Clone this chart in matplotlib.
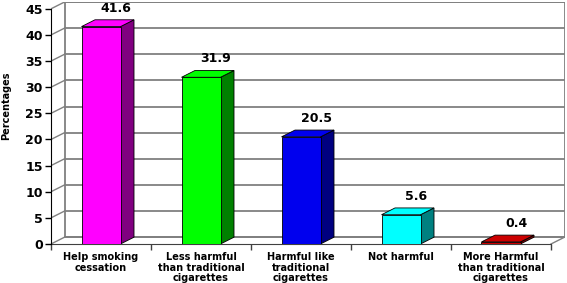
import matplotlib
matplotlib.use('Agg')
import matplotlib.pyplot as plt
from matplotlib.patches import Polygon, Rectangle

# data
categories = ['Help smoking\ncessation',
              'Less harmful\nthan traditional\ncigarettes',
              'Harmful like\ntraditional\ncigarettes',
              'Not harmful',
              'More Harmful\nthan traditional\ncigarettes']
values = [41.6, 31.9, 20.5, 5.6, 0.4]
front_colors = ['#ff00ff', '#00ff00', '#0000ee', '#00ffff', '#cc0000']
side_colors = ['#800080', '#008000', '#000080', '#008080', '#800000']
y_ticks = list(range(0, 50, 5))

DX, DY = 0.135, 1.3   # fake 3d depth (categories, value units)
W = 0.39
GRID = '#808080'

plt.rcParams['font.family'] = ['DejaVu Sans']
plt.rcParams['font.weight'] = 'bold'

fig = plt.figure(figsize=(5.67, 2.83), dpi=100)
ax = fig.add_axes([51 / 567, 39 / 283, 514 / 567, 242.5 / 283])
ax.set_xlim(-0.5, 4.5 + DX + 0.005)
ax.set_ylim(0, 45 + DY + 0.1)

# back wall, side wall diagonals, floor
ax.add_patch(Rectangle((-0.5 + DX, DY), 5, 45, facecolor='white',
                       edgecolor=GRID, lw=1.3, zorder=1))
for t in y_ticks:
    ax.plot([-0.5 + DX, 4.5 + DX], [t + DY, t + DY], color=GRID, lw=1.3, zorder=1)
    ax.plot([-0.5, -0.5 + DX], [t, t + DY], color=GRID, lw=1.0, zorder=1)
ax.plot([4.5, 4.5 + DX], [0, DY], color=GRID, lw=1.0, zorder=1)

# bars
for i, (v, fc, sc) in enumerate(zip(values, front_colors, side_colors)):
    x0, x1 = i - W / 2, i + W / 2
    ax.add_patch(Polygon([(x1, 0), (x1 + DX, DY), (x1 + DX, v + DY), (x1, v)],
                         closed=True, facecolor=sc, edgecolor='black', lw=0.6, zorder=3))
    ax.add_patch(Polygon([(x0, v), (x0 + DX, v + DY), (x1 + DX, v + DY), (x1, v)],
                         closed=True, facecolor=fc, edgecolor='black', lw=0.6, zorder=3))
    ax.add_patch(Rectangle((x0, 0), W, v, facecolor=fc, edgecolor='black',
                           lw=0.6, zorder=4))
    ax.text(i + 0.15, v + DY + 1.0, f'{v}', ha='center', va='bottom',
            fontsize=9, fontweight='bold', zorder=5)

for s in ['top', 'right']:
    ax.spines[s].set_visible(False)
ax.spines['left'].set_bounds(0, 45)
ax.spines['bottom'].set_bounds(-0.5, 4.5)
ax.spines['left'].set_zorder(6)
ax.spines['bottom'].set_color('#404040')

ax.set_yticks(y_ticks)
ax.set_yticklabels([str(t) for t in y_ticks], fontsize=9, fontweight='bold')
ax.tick_params(axis='y', length=4, width=1, pad=2)

ax.set_xticks([-0.5, 0.5, 1.5, 2.5, 3.5, 4.5])
ax.set_xticklabels([])
ax.tick_params(axis='x', which='major', length=4, width=1, color='#404040')
ax.set_xticks(range(len(categories)), minor=True)
ax.set_xticklabels(categories, minor=True, fontsize=7, fontweight='bold',
                   linespacing=1.05)
ax.tick_params(axis='x', which='minor', length=0, pad=6)

ax.set_ylabel('Percentages', fontsize=7, fontweight='bold')
ax.yaxis.set_label_coords(-0.077, 0.57)

fig.savefig('out.png', dpi=100, facecolor='white')
